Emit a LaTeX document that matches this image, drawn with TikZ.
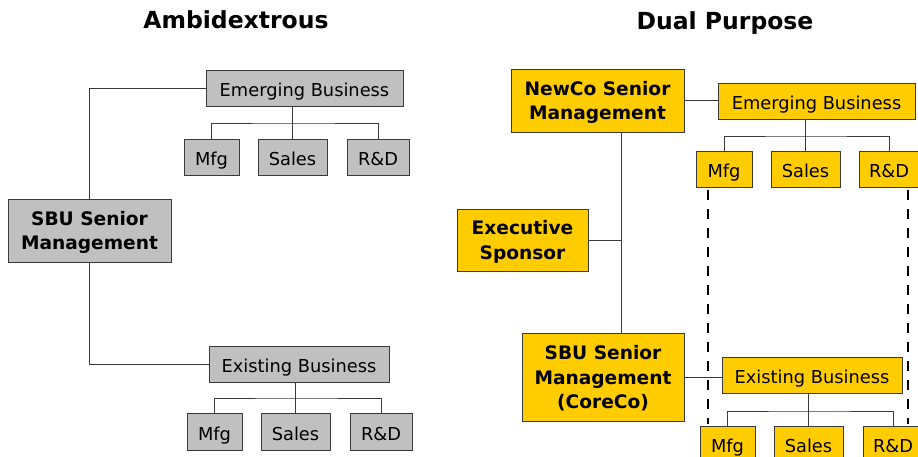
\documentclass[tikz,border=0pt]{standalone}
\usepackage{fontspec}
\setmainfont{DejaVu Sans}
\usetikzlibrary{calc}
\definecolor{boxgray}{HTML}{C0C0C0}
\definecolor{boxgold}{HTML}{FFCC00}
\definecolor{edge}{HTML}{3A3A3A}
\begin{document}
\begin{tikzpicture}[x=1pt,y=-1pt,
  every node/.style={inner sep=0pt, outer sep=0pt, align=center},
  unit/.style={draw=edge, line width=1pt, minimum height=36pt,
    text height=17pt, text depth=0pt,
    font=\fontsize{17.8}{21}\selectfont},
  head/.style={draw=edge, line width=1pt, text depth=0pt,
    font=\fontsize{18.6}{24.5}\selectfont\bfseries},
  grayfill/.style={fill=boxgray},
  goldfill/.style={fill=boxgold},
  title/.style={anchor=base, font=\fontsize{23.5}{28}\selectfont\bfseries},
  link/.style={draw=edge, line width=0.9pt},
  dotted link/.style={draw=black, line width=2.6pt, dash pattern=on 10pt off 9pt}]
\useasboundingbox (0,0) rectangle (918,456);
\clip (0,0) rectangle (918,456);
\fill[white] (0,0) rectangle (918,456);

% ---- titles
\node[title] (tA) at (236,28) {Ambidextrous};
\node[title] (tB) at (725,29.5) {Dual Purpose};

% ---- left chart: ambidextrous organisation
\node[head, grayfill, minimum width=163pt, minimum height=63pt] (sbuA) at (89.5,230.5) {SBU Senior\\Management};
\node[unit, grayfill, minimum width=197pt] (emA) at (304.5,88) {Emerging Business};
\node[unit, grayfill, minimum width=55pt] (emA1) at (211.5,157) {Mfg};
\node[unit, grayfill, minimum width=69pt] (emA2) at (292.5,157) {Sales};
\node[unit, grayfill, minimum width=62pt] (emA3) at (378,157) {R\&D};
\node[unit, grayfill, minimum width=180pt] (exA) at (299,364) {Existing Business};
\node[unit, grayfill, minimum width=55pt, minimum height=37pt] (exA1) at (214.5,431.5) {Mfg};
\node[unit, grayfill, minimum width=69pt, minimum height=37pt] (exA2) at (295.5,431.5) {Sales};
\node[unit, grayfill, minimum width=62pt, minimum height=37pt] (exA3) at (381,431.5) {R\&D};

\coordinate (barA1) at (0,123);
\coordinate (barA2) at (0,398);

\draw[link] (emA.west) -| (sbuA.north);
\draw[link] (sbuA.south) |- (exA.west);
\draw[link] (emA2.north) -- (emA2.north |- emA.south);
\draw[link] (emA1.north) |- (barA1 -| emA2.north) -| (emA3.north);
\draw[link] (exA2.north) -- (exA2.north |- exA.south);
\draw[link] (exA1.north) |- (barA2 -| exA2.north) -| (exA3.north);

% ---- right chart: dual purpose organisation
\node[head, goldfill, minimum width=173pt, minimum height=63pt] (newco) at (597.5,100.5) {NewCo Senior\\Management};
\node[head, goldfill, minimum width=131pt, minimum height=62pt] (spon) at (522.5,240) {Executive\\Sponsor};
\node[head, goldfill, minimum width=162pt, minimum height=88pt] (core) at (603,377) {SBU Senior\\Management\\(CoreCo)};
\node[unit, goldfill, minimum width=197pt] (emB) at (816.5,101) {Emerging Business};
\node[unit, goldfill, minimum width=56pt] (emB1) at (724,169) {Mfg};
\node[unit, goldfill, minimum width=69pt] (emB2) at (805.5,169) {Sales};
\node[unit, goldfill, minimum width=60pt] (emB3) at (889,169) {R\&D};
\node[unit, goldfill, minimum width=180pt] (exB) at (812,375) {Existing Business};
\node[unit, goldfill, minimum width=55pt] (exB1) at (727.5,444) {Mfg};
\node[unit, goldfill, minimum width=69pt] (exB2) at (808.5,444) {Sales};
\node[unit, goldfill, minimum width=60pt] (exB3) at (893,444) {R\&D};

\coordinate (spine) at (621,0);
\coordinate (barB1) at (0,136);
\coordinate (barB2) at (0,411);

\draw[link] (spine |- newco.south) -- (spine |- core.north);
\draw[link] (spon.east) -- (spon.east -| spine);
\draw[link] (newco.east) -- (newco.east -| emB.west);
\draw[link] (core.east) -- (core.east -| exB.west);
\draw[link] (emB2.north) -- (emB2.north |- emB.south);
\draw[link] (emB1.north) |- (barB1 -| emB2.north) -| (emB3.north);
\draw[link] (exB2.north) -- (exB2.north |- exB.south);
\draw[link] (exB1.north) |- (barB2 -| exB2.north) -| (exB3.north);

% dashed ties between the emerging and existing functions
\coordinate (dL1) at (708,190);
\coordinate (dL2) at (708,424);
\coordinate (dR1) at (908,190);
\coordinate (dR2) at (908,424);
\draw[dotted link] (dL1) -- (dL2);
\draw[dotted link] (dR1) -- (dR2);
\end{tikzpicture}
\end{document}
